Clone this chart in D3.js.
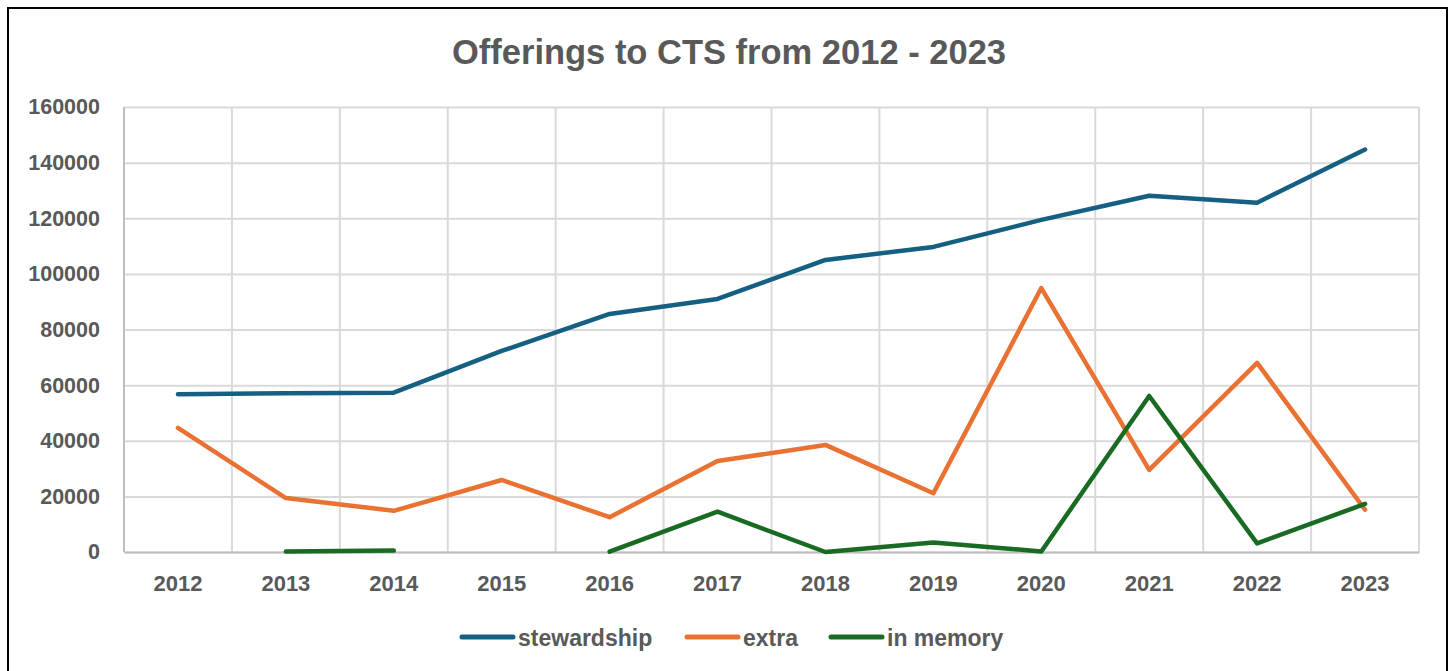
<!DOCTYPE html>
<html><head><meta charset="utf-8">
<script src="https://cdn.jsdelivr.net/npm/d3@7"></script>
<style>body{margin:0;background:#fff;} svg{display:block;font-family:"Liberation Sans",Arial,sans-serif;}</style>
</head><body>
<svg id="c" width="1453" height="671"></svg>
<script>
const years = ["2012","2013","2014","2015","2016","2017","2018","2019","2020","2021","2022","2023"];
const stewardship = [56700, 57100, 57300, 72300, 85600, 91000, 105000, 109700, 119400, 128100, 125600, 144700];
const extra = [44600, 19400, 14800, 25900, 12500, 32700, 38500, 21100, 94900, 29500, 68000, 15200];
const inMemory = [null, 200, 500, null, 100, 14500, 0, 3400, 200, 56100, 3100, 17300];
const yTicks = [0, 20000, 40000, 60000, 80000, 100000, 120000, 140000, 160000];
const seriesNames = ["stewardship", "extra", "in memory"];
const colors = ["#156082", "#E97132", "#196B24"];
const title = "Offerings to CTS from 2012 - 2023";

const svg = d3.select("#c");
const L = 124, R = 1419, T = 107, B = 552;
const x = d3.scaleBand().domain(years).range([L, R]);
const y = d3.scaleLinear().domain([0, 160000]).range([B, T]);
const txt = "#595959";

svg.append("rect").attr("x", 8).attr("y", 8).attr("width", 1439).attr("height", 700)
  .attr("fill", "none").attr("stroke", "#000").attr("stroke-width", 2);

// horizontal grid
const gy = svg.append("g").attr("transform", `translate(${L},0)`)
  .call(d3.axisLeft(y).tickValues(yTicks).tickSize(-(R - L)).tickFormat(d => d).tickPadding(24));
gy.select(".domain").remove();
gy.selectAll(".tick line").attr("stroke", "#d9d9d9").attr("stroke-width", 2);
gy.selectAll(".tick text").attr("fill", txt).attr("font-size", 21.5).attr("font-weight", "bold");

// vertical grid at band boundaries
const bounds = years.map(d => x(d)).concat([R]);
svg.append("g").selectAll("line").data(bounds).join("line")
  .attr("x1", d => d).attr("x2", d => d).attr("y1", T).attr("y2", B)
  .attr("stroke", (d, i) => i === 0 ? "#bfbfbf" : "#d9d9d9").attr("stroke-width", 2);

// x axis
const gx = svg.append("g").attr("transform", `translate(0,${B})`)
  .call(d3.axisBottom(x).tickSize(0).tickPadding(23));
gx.select(".domain").attr("stroke", "#bfbfbf").attr("stroke-width", 2);
gx.selectAll(".tick text").attr("fill", txt).attr("font-size", 22).attr("font-weight", "bold");

// lines
const data = [stewardship, extra, inMemory];
const line = d3.line().defined(d => d != null).x((d, i) => x(years[i]) + x.bandwidth() / 2).y(d => y(d));
data.forEach((s, k) => {
  svg.append("path").datum(s).attr("d", line).attr("fill", "none")
    .attr("stroke", colors[k]).attr("stroke-width", 4.5).attr("stroke-linecap", "round").attr("stroke-linejoin", "round");
});

// title
svg.append("text").attr("x", 729).attr("y", 64).attr("text-anchor", "middle")
  .attr("fill", txt).attr("font-size", 34.5).attr("font-weight", "bold").text(title);

// legend
const legX = [460, 685, 829];
seriesNames.forEach((n, k) => {
  svg.append("line").attr("x1", legX[k] + 2).attr("x2", legX[k] + 53).attr("y1", 637).attr("y2", 637)
    .attr("stroke", colors[k]).attr("stroke-width", 5).attr("stroke-linecap", "round");
  svg.append("text").attr("x", legX[k] + 58).attr("y", 646).attr("fill", txt)
    .attr("font-size", 23).attr("font-weight", "bold").text(n);
});
</script>
</body></html>
